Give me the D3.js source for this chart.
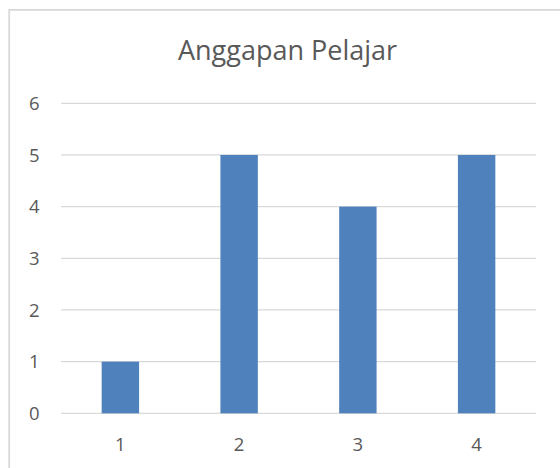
<!DOCTYPE html>
<html>
<head>
<meta charset="utf-8">
<script src="https://cdnjs.cloudflare.com/ajax/libs/d3/7.8.5/d3.min.js"></script>
<style>
  body { margin: 0; background: #fff; }
  svg { display: block; }
  .chart text { font-family: "Open Sans", "Noto Sans", sans-serif; fill: #595959; }
</style>
</head>
<body>
<div id="chart"></div>
<script>
var title = "Anggapan Pelajar";
var categories = ["1", "2", "3", "4"];
var values = [1, 5, 4, 5];
var yTicks = [0, 1, 2, 3, 4, 5, 6];

var width = 560, height = 468;
var plot = { left: 61, right: 536, top: 103.3, bottom: 413.3 };

var svg = d3.select("#chart").append("svg")
  .attr("class", "chart")
  .attr("width", width)
  .attr("height", height);

// chart frame (only top/left edges visible in the crop)
svg.append("rect")
  .attr("x", 9.2).attr("y", 9.9)
  .attr("width", width + 20).attr("height", height + 20)
  .attr("fill", "none")
  .attr("stroke", "#d9d9d9")
  .attr("stroke-width", 1.8);

var x = d3.scaleBand().domain(categories).range([plot.left, plot.right]);
var y = d3.scaleLinear().domain([0, 6]).range([plot.bottom, plot.top]);
var barW = x.bandwidth() * 0.315;

// gridlines
svg.append("g").selectAll("line")
  .data(yTicks)
  .enter().append("line")
  .attr("x1", plot.left).attr("x2", plot.right)
  .attr("y1", function(d) { return y(d); })
  .attr("y2", function(d) { return y(d); })
  .attr("stroke", "#d9d9d9")
  .attr("stroke-width", 1.2);

// y tick labels
svg.append("g").selectAll("text")
  .data(yTicks)
  .enter().append("text")
  .attr("x", 39.5)
  .attr("y", function(d) { return y(d); })
  .attr("dy", "0.37em")
  .attr("text-anchor", "end")
  .attr("font-size", 18.5)
  .text(function(d) { return d; });

// bars
svg.append("g").selectAll("rect")
  .data(values)
  .enter().append("rect")
  .attr("x", function(d, i) { return x(categories[i]) + x.bandwidth() / 2 - barW / 2; })
  .attr("y", function(d) { return y(d); })
  .attr("width", barW)
  .attr("height", function(d) { return y(0) - y(d); })
  .attr("fill", "#4f81bd");

// x labels
svg.append("g").selectAll("text")
  .data(categories)
  .enter().append("text")
  .attr("x", function(d) { return x(d) + x.bandwidth() / 2; })
  .attr("y", 444)
  .attr("dy", "0.37em")
  .attr("text-anchor", "middle")
  .attr("font-size", 18.5)
  .text(function(d) { return d; });

// title
svg.append("text")
  .attr("x", 287.5)
  .attr("y", 60)
  .attr("text-anchor", "middle")
  .attr("font-size", 27)
  .text(title);
</script>
</body>
</html>
